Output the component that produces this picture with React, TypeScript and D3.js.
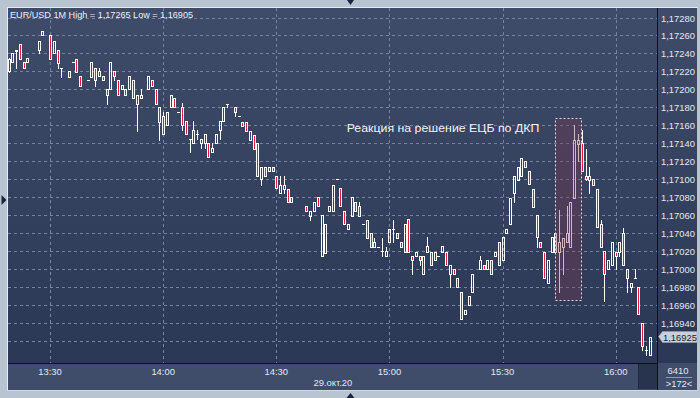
import React from 'react';
import * as d3 from 'd3';

// ---- data (1-minute EUR/USD candles, 29 Oct 2020) ----
const minuteFrom13 = [19,20,21,22,23,24,27,28,30,31,32,33,35,36,37,38,40,41,42,43,44,45,46,47,48,49,50,51,52,53,54,56,57,58,59,60,61,62,63,64,65,66,67,68,69,70,71,72,73,74,75,76,77,79,80,81,82,83,84,85,86,87,88,89,90,91,92,93,94,98,99,100,101,102,103,104,105,106,107,108,109,110,111,112,113,114,115,116,117,118,119,120,121,122,123,124,125,126,127,128,129,130,131,132,133,134,135,136,137,138,139,140,141,142,144,145,146,147,148,149,150,151,152,153,154,155,156,157,158,159,160,161,162,163,164,165,166,167,168,169,170,171,172,173,174,175,176,177,178,179,180,181,182,183,184,185,186,187,188,189];

const open = [1.17221,1.1723,1.17243,1.1725,1.1723,1.1723,1.17244,1.1726,
1.1726,1.1724,1.17244,1.17224,
1.17214,1.1723,1.17234,1.17215,
1.1721,1.17214,1.17224,1.17215,1.17215,1.172,1.172,1.1722,1.1721,1.172,1.172,1.172,1.1721,1.17184,1.1719,
1.172,1.1721,1.172,1.1718,1.1717,1.1716,1.1718,1.1719,1.17175,1.1718,1.17165,1.17145,1.1714,1.1715,1.1714,1.1714,1.1714,1.1713,1.1714,1.17155,1.17165,1.17184,
1.1718,1.1717,1.17164,1.17164,1.17144,1.17149,1.1714,1.171,1.17114,1.17109,1.17114,1.17104,1.17085,1.17089,1.17089,1.1708,
1.1707,1.17059,1.17065,1.1708,1.17015,1.17018,1.17065,1.17065,1.171,1.1709,1.17065,1.17045,1.17059,1.17075,1.1707,1.1705,1.17055,1.1704,1.17025,1.17025,1.1702,1.17015,1.1703,1.17045,1.1704,1.1703,1.17019,1.17056,1.17015,1.17015,1.17015,1.16995,1.17019,1.17019,1.1701,1.17015,1.17019,1.17019,1.16995,1.17,1.1699,1.16975,1.1695,1.1696,1.16975,
1.17,1.17005,1.17,1.1701,1.17015,1.1703,1.1701,1.1704,1.1705,1.17085,1.17099,1.17104,1.1712,1.17109,1.17089,1.1706,1.1703,1.17019,1.16985,1.17019,1.1704,1.17019,1.17025,1.1703,1.17025,1.17079,1.17139,1.1714,1.17104,1.17099,1.171,1.17089,1.1705,1.1702,1.17,1.17005,1.17019,1.17019,1.1704,1.17,1.1698,1.1699,1.1698,1.1694,1.1691,1.16905];

const high = [1.17235,1.1724,1.17244,1.1725,1.1723,1.17235,1.17254,1.17265,
1.1726,1.17254,1.17244,1.17224,
1.1722,1.1723,1.17234,1.17215,
1.1721,1.1723,1.17224,1.17224,1.17215,1.172,1.1723,1.1722,1.1721,1.17205,1.172,1.17215,1.1721,1.17194,1.172,
1.17215,1.1721,1.172,1.1718,1.17175,1.17175,1.17194,1.1719,1.17175,1.17185,1.17165,1.17145,1.17165,1.17155,1.17145,1.1715,1.1714,1.1714,1.1715,1.17165,1.1718,1.17184,
1.1718,1.1717,1.17164,1.17164,1.17154,1.17149,1.1714,1.17114,1.17114,1.17114,1.17114,1.17104,1.17104,1.17104,1.17089,1.1708,
1.1707,1.17065,1.17075,1.1708,1.1706,1.1705,1.1707,1.17094,1.171,1.1709,1.17065,1.1705,1.1708,1.17075,1.17075,1.1705,1.17055,1.1704,1.17035,1.17025,1.17035,1.17025,1.17045,1.17055,1.1704,1.1703,1.1705,1.17056,1.17015,1.17019,1.17015,1.17015,1.17036,1.17019,1.17019,1.17015,1.17026,1.17019,1.17005,1.17,1.1699,1.16975,1.16955,1.1697,1.16995,
1.17015,1.17005,1.1701,1.1701,1.17019,1.1703,1.17036,1.17045,1.17079,1.17104,1.17114,1.17124,1.1712,1.17109,1.17089,1.1706,1.1703,1.17019,1.1701,1.17036,1.1704,1.17066,1.17035,1.1707,1.17075,1.1716,1.1715,1.17155,1.17134,1.17114,1.171,1.17089,1.17055,1.1702,1.1701,1.1703,1.17019,1.1703,1.17046,1.17,1.16985,1.17,1.1698,1.1694,1.16915,1.16925];

const low = [1.17219,1.1723,1.17224,1.17234,1.17224,1.1723,1.1724,1.1726,
1.17234,1.1724,1.17224,1.17214,
1.17214,1.1723,1.17219,1.17204,
1.1721,1.17214,1.17204,1.17215,1.1721,1.17184,1.172,1.1721,1.17194,1.172,1.17194,1.172,1.1719,1.17154,1.1719,
1.172,1.17204,1.17184,1.17144,1.1715,1.1716,1.1718,1.1718,1.17175,1.17155,1.1715,1.1713,1.1714,1.17145,1.17135,1.17135,1.17125,1.1713,1.1714,1.17145,1.17165,1.1718,
1.1717,1.1717,1.17159,1.17154,1.17144,1.17134,1.17104,1.17094,1.17104,1.17109,1.17109,1.1709,1.17085,1.17085,1.17075,1.17075,
1.17065,1.17055,1.17065,1.1707,1.17015,1.17018,1.17065,1.17065,1.171,1.1707,1.1705,1.17045,1.17059,1.17065,1.17059,1.1705,1.17035,1.17025,1.17025,1.17025,1.17015,1.17015,1.1703,1.1703,1.17035,1.17025,1.17019,1.17019,1.16995,1.17015,1.17005,1.16995,1.17019,1.17005,1.1701,1.17015,1.17019,1.17005,1.1698,1.16995,1.1698,1.16945,1.1695,1.1696,1.16975,
1.17,1.17,1.17,1.16995,1.17015,1.17005,1.1701,1.1704,1.1705,1.17075,1.17099,1.17104,1.17114,1.17095,1.17069,1.17025,1.17025,1.1699,1.16985,1.17019,1.17019,1.16975,1.16995,1.1703,1.17025,1.17079,1.1712,1.17109,1.17099,1.17085,1.17094,1.17047,1.17025,1.16965,1.17,1.17005,1.17,1.17015,1.17005,1.16975,1.16975,1.1699,1.1695,1.1691,1.16905,1.16905];

const close = [1.17234,1.1724,1.17244,1.17234,1.17224,1.17235,1.17254,1.17265,
1.17234,1.17254,1.17229,1.17224,
1.1722,1.1723,1.17219,1.17204,
1.1721,1.1723,1.1721,1.1722,1.1721,1.17194,1.1723,1.17215,1.17194,1.17205,1.17194,1.17215,1.1719,1.17194,1.17194,
1.17215,1.17204,1.17184,1.17164,1.1715,1.17175,1.17194,1.1718,1.17175,1.1716,1.1715,1.17145,1.17155,1.1715,1.17145,1.1715,1.17125,1.17135,1.1715,1.17165,1.1718,1.17184,
1.17175,1.1717,1.17159,1.17154,1.17154,1.17134,1.17104,1.17114,1.17104,1.17114,1.17109,1.1709,1.17094,1.17094,1.17075,1.17075,
1.17065,1.17065,1.17075,1.1707,1.1706,1.1705,1.1707,1.17094,1.171,1.1707,1.1705,1.1705,1.1708,1.17065,1.17059,1.1705,1.17035,1.17025,1.1703,1.17025,1.1702,1.1702,1.17045,1.17045,1.17035,1.17025,1.1705,1.17019,1.1701,1.17019,1.1701,1.17015,1.17026,1.17005,1.17019,1.17015,1.17026,1.17005,1.17005,1.16995,1.1698,1.16945,1.16955,1.1697,1.16995,
1.1701,1.17,1.1701,1.16995,1.17019,1.17005,1.17036,1.17045,1.17079,1.17104,1.17114,1.17124,1.17114,1.17095,1.17069,1.17036,1.17025,1.1699,1.1701,1.17036,1.17019,1.1703,1.17035,1.1704,1.17075,1.17144,1.17144,1.17109,1.171,1.17104,1.17094,1.17047,1.17025,1.16995,1.1701,1.1703,1.17015,1.1703,1.17005,1.1699,1.16985,1.1699,1.1695,1.16915,1.1691,1.16925];

const gridPrices = [1.1692,1.1694,1.1696,1.1698,1.17,1.1702,1.1704,1.1706,1.1708,1.171,1.1712,1.1714,1.1716,1.1718,1.172,1.1722,1.1724,1.1726,1.1728];
const priceLabels = [1.1694,1.1696,1.1698,1.17,1.1702,1.1704,1.1706,1.1708,1.171,1.1712,1.1714,1.1716,1.1718,1.172,1.1722,1.1724,1.1726,1.1728];
const timeTicks = ['13:30','14:00','14:30','15:00','15:30','16:00'];
const titleText = 'EUR/USD 1M High = 1,17265 Low = 1,16905';
const annotationText = 'Реакция на решение ЕЦБ по ДКП';
const dateLabel = '29.окт.20';
const barCount = '6410';
const visibleBars = '>172<';
const lastPrice = 1.16925;
const highlightTimes = ['15:44', '15:51'];
const highlightPrices = [1.16966, 1.17168];

// ---- layout ----
const W = 700, H = 398;
const PL = 8, PT = 8, PR = 657, PB = 363, BB = 390, RR = 697;

const parse = d3.timeParse('%Y-%m-%d %H:%M');
const day = '2020-10-29';
const base = parse(`${day} 13:00`) as Date;
const tAt = (hm: string) => parse(`${day} ${hm}`) as Date;

const x = d3.scaleTime().domain([tAt('13:30'), tAt('16:00')]).range([50, 615.7]);
const y = d3.scaleLinear().domain([1.169, 1.1728]).range([359, 17.5]);
const fmtPrice = (v: number) => d3.format('.5f')(v).replace('.', ',');

const RED = '#e8173c';
const FONT = "'Liberation Sans', Arial, sans-serif";
const LABEL = '#e1e9f4';

export default function App() {
  const candles = minuteFrom13.map((m, i) => ({
    t: d3.timeMinute.offset(base, m),
    o: open[i], h: high[i], l: low[i], c: close[i],
  }));

  const hx0 = x(tAt(highlightTimes[0]));
  const hx1 = x(tAt(highlightTimes[1]));
  const hy0 = y(highlightPrices[1]);
  const hy1 = y(highlightPrices[0]);
  const ly = y(lastPrice);

  return (
    <div style={{ position: 'absolute', left: 0, top: 0 }}>
      <svg width={W} height={H} style={{ display: 'block' }} fontFamily={FONT}>
        <defs>
          <linearGradient id="bg" x1="0" y1="0" x2="0" y2="1">
            <stop offset="0" stopColor="#3e4b69" />
            <stop offset="1" stopColor="#2b3855" />
          </linearGradient>
          <clipPath id="plot">
            <rect x={PL} y={PT} width={PR - PL} height={PB - PT} />
          </clipPath>
        </defs>
        <rect width={W} height={H} fill="#b9c4d3" />
        <line x1={7} y1={7.5} x2={698} y2={7.5} stroke="#e6ebf2" />
        <line x1={7.5} y1={7} x2={7.5} y2={391} stroke="#e6ebf2" />
        <line x1={7} y1={390.5} x2={698} y2={390.5} stroke="#d2d9e3" />
        <rect x={PL} y={PT} width={RR - PL} height={PB - PT} fill="url(#bg)" />
        <rect x={PL} y={PB} width={RR - PL} height={BB - PB} fill="#3f4c6a" />
        <rect x={639} y={PB + 1} width={PR - 639} height={BB - PB - 2} fill="#28334d" />
        <line x1={638.5} y1={PB + 1} x2={638.5} y2={BB - 1} stroke="#1f2840" />

        {/* grid */}
        <g stroke="#7383a3" strokeDasharray="3,3" strokeWidth={1}>
          {gridPrices.map((v) => (
            <line key={v} x1={PL} x2={PR} y1={Math.round(y(v)) + 0.5} y2={Math.round(y(v)) + 0.5} />
          ))}
          {timeTicks.map((s) => (
            <line key={s} x1={Math.round(x(tAt(s))) + 0.5} x2={Math.round(x(tAt(s))) + 0.5} y1={PT} y2={PB} />
          ))}
        </g>

        {/* candles */}
        <g clipPath="url(#plot)">
          {candles.map((d, i) => {
            const cx = Math.round(x(d.t));
            const left = cx - 1;
            const yTop = Math.round(y(Math.max(d.o, d.c)));
            const yBot = Math.round(y(Math.min(d.o, d.c)));
            const yH = Math.round(y(d.h));
            const yL = Math.round(y(d.l));
            const bear = d.c < d.o;
            const els: any[] = [];
            if (yH < yTop) els.push(<line key="wu" x1={cx + 0.5} x2={cx + 0.5} y1={yH} y2={yTop} stroke="#fff" />);
            if (yL > yBot) els.push(<line key="wd" x1={cx + 0.5} x2={cx + 0.5} y1={yBot + 1} y2={yL + 1} stroke="#fff" />);
            if (yBot - yTop < 1) {
              els.push(<rect key="b" x={left} y={yTop} width={3} height={1} fill="#fff" />);
            } else {
              els.push(
                <rect key="b" x={left + 0.5} y={yTop + 0.5} width={2} height={yBot - yTop}
                  fill={bear ? RED : 'none'} stroke="#fff" strokeWidth={1} />
              );
            }
            return <g key={i}>{els}</g>;
          })}
        </g>

        {/* highlight box */}
        <rect x={Math.round(hx0) + 0.5} y={Math.round(hy0) + 0.5} width={Math.round(hx1 - hx0)} height={Math.round(hy1 - hy0)}
          fill="rgb(125,55,80)" fillOpacity={0.36} stroke="#e2d6dc" strokeDasharray="2,2" />
        <text x={346.7} y={y(1.17153)} fontSize={11.6} fill="#f2f2f6" textLength={192.6} lengthAdjust="spacingAndGlyphs">
          {annotationText}
        </text>

        {/* title */}
        <text x={10} y={18} fontSize={9.6} fill="#eaeff6" textLength={183} lengthAdjust="spacingAndGlyphs">{titleText}</text>

        {/* axes lines */}
        <line x1={PL} x2={PR} y1={PB + 0.5} y2={PB + 0.5} stroke="#0c111c" />
        <line x1={PR + 0.5} x2={PR + 0.5} y1={PT} y2={BB} stroke="#0c111c" />

        {/* price labels */}
        {priceLabels.map((v) => (
          <text key={v} x={661} y={y(v) + 4} fontSize={9.4} fill={LABEL}>{fmtPrice(v)}</text>
        ))}

        {/* last price tag */}
        <polygon points={`658.5,${ly} 662.5,${ly - 5} 697,${ly - 5} 697,${ly + 6} 662.5,${ly + 6}`}
          fill="#c9d0da" stroke="#9aa4b4" strokeWidth={0.5} />
        <text x={663} y={ly + 4} fontSize={9.4} fill="#1c2334">{fmtPrice(lastPrice)}</text>

        {/* time labels */}
        {timeTicks.map((s) => (
          <text key={s} x={x(tAt(s))} y={375} fontSize={9.4} fill={LABEL} textAnchor="middle">{s}</text>
        ))}
        <text x={(x(tAt('14:30')) + x(tAt('15:00'))) / 2} y={386} fontSize={9.4} fill={LABEL} textAnchor="middle">{dateLabel}</text>

        {/* bottom-right counters */}
        <text x={678} y={374} fontSize={9.4} fill={LABEL} textAnchor="middle">{barCount}</text>
        <line x1={666} x2={692} y1={377.5} y2={377.5} stroke="#8e9bb3" />
        <text x={679} y={386.5} fontSize={9.4} fill={LABEL} textAnchor="middle">{visibleBars}</text>

        {/* frame markers */}
        <polygon points="1.5,195 6.5,200 1.5,205" fill="#1b2540" />
        <polygon points="347,0 354,0 350.5,5" fill="#1b2540" />
        <polygon points="346.5,398 354.5,398 350.5,393" fill="#1b2540" />
      </svg>
    </div>
  );
}
